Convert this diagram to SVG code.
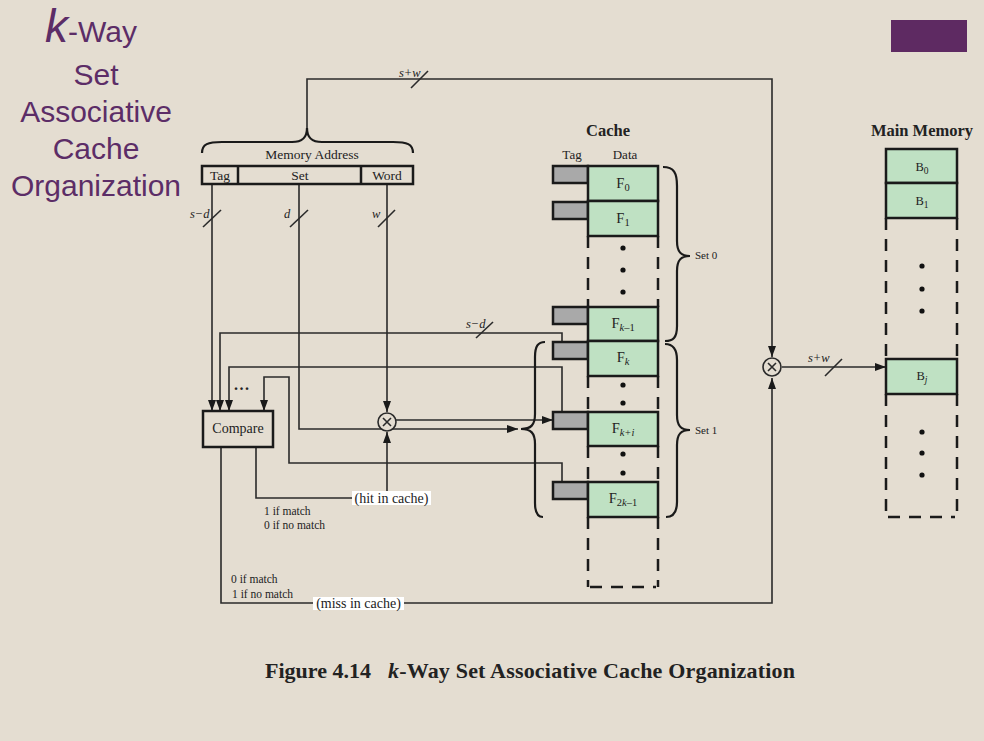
<svg xmlns="http://www.w3.org/2000/svg" width="984" height="741" viewBox="0 0 984 741">
<defs>
<marker id="arr" viewBox="0 0 11 8" refX="11" refY="4" markerWidth="11" markerHeight="8" markerUnits="userSpaceOnUse" orient="auto"><path d="M0,0 L11,4 L0,8 z" fill="#1a1a1a"/></marker>
</defs>
<style>
.ln{fill:none;stroke:#2a2a2a;stroke-width:1.6}
.br{fill:none;stroke:#1a1a1a;stroke-width:2.2}
.box{fill:none;stroke:#1a1a1a;stroke-width:2.5}
.tag{fill:#a9a9a9;stroke:#1a1a1a;stroke-width:2.5}
.data{fill:#bfe1c3;stroke:#1a1a1a;stroke-width:2.5}
.dash{fill:none;stroke:#1a1a1a;stroke-width:2.5;stroke-dasharray:12 9}
.t{font-family:"Liberation Serif","Times New Roman",serif;fill:#222}
.it{font-style:italic}
.m{text-anchor:middle}
.ttl{font-family:"Liberation Sans",Arial,sans-serif;fill:#5c2d67;font-size:30px;text-anchor:middle}
.dot{fill:#111}
.lbl{fill:#ffffff}
.mul{fill:#e4ddd1;stroke:#2a2a2a;stroke-width:1.6}
</style>
<rect x="0" y="0" width="984" height="741" fill="#e4ddd1"/>
<rect x="891" y="20" width="76" height="32" fill="#5e2a62"/>

<g id="title">
<text x="45" y="42" style="font-family:'Liberation Sans',Arial,sans-serif;fill:#5c2d67"><tspan font-style="italic" font-size="46">k</tspan><tspan font-size="30">-Way</tspan></text>
<text class="ttl" x="96" y="85">Set</text>
<text class="ttl" x="96" y="122">Associative</text>
<text class="ttl" x="96" y="159">Cache</text>
<text class="ttl" x="96" y="196">Organization</text>
</g>

<g id="connectors">
<path class="ln" d="M307,128 V79 H772 V357" marker-end="url(#arr)"/>
<path class="ln" d="M212,184 V411" marker-end="url(#arr)"/>
<path class="ln" d="M299,184 V429 H518" marker-end="url(#arr)"/>
<path class="ln" d="M387,184 V412" marker-end="url(#arr)"/>
<path class="ln" d="M396,420 H553" marker-end="url(#arr)"/>
<path class="ln" d="M562,342 V333 H220 V411" marker-end="url(#arr)"/>
<path class="ln" d="M562,412 V367 H229 V411" marker-end="url(#arr)"/>
<path class="ln" d="M562,482 V463 H289 V377 H264 V411" marker-end="url(#arr)"/>
<path class="ln" d="M256,447 V498 H352"/>
<path class="ln" d="M387,491 V432" marker-end="url(#arr)"/>
<path class="ln" d="M221,447 V603 H772 V378" marker-end="url(#arr)"/>
<path class="ln" d="M782,367 H886" marker-end="url(#arr)"/>
<!-- slashes -->
<line class="ln" x1="411" y1="88" x2="428" y2="71"/>
<line class="ln" x1="203" y1="227" x2="221" y2="210"/>
<line class="ln" x1="290" y1="227" x2="308" y2="210"/>
<line class="ln" x1="378" y1="227" x2="395" y2="210"/>
<line class="ln" x1="476" y1="338" x2="493" y2="322"/>
<line class="ln" x1="825" y1="376" x2="842" y2="359"/>
<text class="t it" x="399" y="77" font-size="12.5">s+w</text>
<text class="t it" x="190" y="218" font-size="12.5">s−d</text>
<text class="t it" x="284" y="218" font-size="12.5">d</text>
<text class="t it" x="372" y="218" font-size="12.5">w</text>
<text class="t it" x="466" y="328" font-size="12.5">s−d</text>
<text class="t it" x="808" y="362" font-size="12.5">s+w</text>
</g>

<g id="memory-address">
<path class="br" d="M202,153 C202,144 208,142 222,142 L292,142 C302,142 307,138 307,128 C307,138 312,142 322,142 L393,142 C407,142 413,144 413,153"/>
<text class="t m" x="312" y="159" font-size="13.5">Memory Address</text>
<rect class="box" x="202" y="166" width="211" height="18"/>
<line class="box" x1="238" y1="166" x2="238" y2="184"/>
<line class="box" x1="361" y1="166" x2="361" y2="184"/>
<text class="t m" x="220" y="180" font-size="13.5">Tag</text>
<text class="t m" x="300" y="180" font-size="13.5">Set</text>
<text class="t m" x="387" y="180" font-size="13.5">Word</text>
</g>

<g id="compare">
<rect class="box" x="203" y="411" width="70" height="36"/>
<text class="t m" x="238" y="433" font-size="14">Compare</text>
<text class="t" x="234" y="390" font-size="16" font-weight="bold" letter-spacing="1.5">...</text>
</g>

<g id="mux-cache">
<circle class="mul" cx="387" cy="422" r="9"/>
<path class="ln" d="M383,418 L391,426 M391,418 L383,426"/>
</g>

<g id="mux-memory">
<circle class="mul" cx="772" cy="367" r="9"/>
<path class="ln" d="M768,363 L776,371 M776,363 L768,371"/>
</g>

<g id="hit-label">
<rect class="lbl" x="352" y="491" width="79" height="14"/>
<text class="t m" x="391.5" y="503" font-size="14">(hit in cache)</text>
<text class="t" x="264" y="515" font-size="11.5">1 if match</text>
<text class="t" x="264" y="529" font-size="11.5">0 if no match</text>
</g>

<g id="miss-label">
<rect class="lbl" x="313" y="597" width="91" height="13"/>
<text class="t m" x="358.5" y="608" font-size="14">(miss in cache)</text>
<text class="t" x="231" y="583" font-size="11.5">0 if match</text>
<text class="t" x="232" y="598" font-size="11.5">1 if no match</text>
</g>

<g id="cache">
<text class="t m" x="608" y="136" font-size="16.5" font-weight="bold">Cache</text>
<text class="t m" x="572" y="159" font-size="13">Tag</text>
<text class="t m" x="625" y="159" font-size="13">Data</text>
<line class="dash" x1="588" y1="236" x2="588" y2="307"/>
<line class="dash" x1="658" y1="236" x2="658" y2="307"/>
<line class="dash" x1="588" y1="376" x2="588" y2="412"/>
<line class="dash" x1="658" y1="376" x2="658" y2="412"/>
<line class="dash" x1="588" y1="446" x2="588" y2="482"/>
<line class="dash" x1="658" y1="446" x2="658" y2="482"/>
<line class="dash" x1="588" y1="517" x2="588" y2="587"/>
<line class="dash" x1="658" y1="517" x2="658" y2="587"/>
<line class="dash" x1="590" y1="587" x2="656" y2="587"/>
<circle class="dot" cx="623" cy="248" r="2.6"/>
<circle class="dot" cx="623" cy="270" r="2.6"/>
<circle class="dot" cx="623" cy="292" r="2.6"/>
<circle class="dot" cx="623" cy="385" r="2.6"/>
<circle class="dot" cx="623" cy="403" r="2.6"/>
<circle class="dot" cx="623" cy="454" r="2.6"/>
<circle class="dot" cx="623" cy="473" r="2.6"/>
</g>

<g id="line-F0">
<rect class="tag" x="553" y="166" width="35" height="17"/>
<rect class="data" x="588" y="166" width="70" height="35"/>
<text class="t m" x="623" y="188" font-size="14.5">F<tspan dy="3" font-size="10.5">0</tspan></text>
</g>
<g id="line-F1">
<rect class="tag" x="553" y="202" width="35" height="17"/>
<rect class="data" x="588" y="201" width="70" height="35"/>
<text class="t m" x="623" y="223" font-size="14.5">F<tspan dy="3" font-size="10.5">1</tspan></text>
</g>
<g id="line-Fk-1">
<rect class="tag" x="553" y="307" width="35" height="17"/>
<rect class="data" x="588" y="307" width="70" height="34"/>
<text class="t m" x="623" y="328" font-size="14.5">F<tspan dy="3" font-size="10.5"><tspan font-style="italic">k</tspan>–1</tspan></text>
</g>
<g id="line-Fk">
<rect class="tag" x="553" y="342" width="35" height="17"/>
<rect class="data" x="588" y="341" width="70" height="35"/>
<text class="t m" x="623" y="362" font-size="14.5">F<tspan dy="3" font-size="10.5" font-style="italic">k</tspan></text>
</g>
<g id="line-Fk+i">
<rect class="tag" x="553" y="412" width="35" height="17"/>
<rect class="data" x="588" y="412" width="70" height="34"/>
<text class="t m" x="623" y="433" font-size="14.5">F<tspan dy="3" font-size="10.5" font-style="italic">k+i</tspan></text>
</g>
<g id="line-F2k-1">
<rect class="tag" x="553" y="482" width="35" height="17"/>
<rect class="data" x="588" y="482" width="70" height="35"/>
<text class="t m" x="623" y="503" font-size="14.5">F<tspan dy="3" font-size="10.5">2<tspan font-style="italic">k</tspan>–1</tspan></text>
</g>

<g id="set0">
<path class="br" d="M663,167 C674,167 677,173 677,186 L677,241 C677,252 681,256 690,256 C681,256 677,260 677,271 L677,326 C677,338 673,341 665,341"/>
<text class="t" x="695" y="259" font-size="11">Set 0</text>
</g>
<g id="set1">
<path class="br" d="M665,344 C673,344 677,349 677,360 L677,415 C677,426 681,430 690,430 C681,430 677,434 677,445 L677,502 C677,513 673,517 666,517"/>
<text class="t" x="695" y="434" font-size="11">Set 1</text>
</g>
<g id="set1-select">
<path class="br" d="M545,342 C538,342 535,346 535,357 L535,414 C535,425 531,429 521,429 C531,429 535,433 535,444 L535,503 C535,513 538,517 543,517"/>
</g>

<g id="main-memory">
<text class="t m" x="922" y="136" font-size="16.5" font-weight="bold">Main Memory</text>
<rect class="data" x="886" y="149" width="71" height="34"/>
<rect class="data" x="886" y="183" width="71" height="35"/>
<text class="t m" x="922" y="171" font-size="12.5">B<tspan dy="3" font-size="9.5">0</tspan></text>
<text class="t m" x="922" y="205" font-size="12.5">B<tspan dy="3" font-size="9.5">1</tspan></text>
<line class="dash" x1="886" y1="218" x2="886" y2="359"/>
<line class="dash" x1="957" y1="218" x2="957" y2="359"/>
<circle class="dot" cx="922" cy="266" r="2.6"/>
<circle class="dot" cx="922" cy="289" r="2.6"/>
<circle class="dot" cx="922" cy="311" r="2.6"/>
<rect class="data" x="886" y="359" width="71" height="35"/>
<text class="t m" x="922" y="380" font-size="12.5">B<tspan dy="3" font-size="9.5" font-style="italic">j</tspan></text>
<line class="dash" x1="886" y1="394" x2="886" y2="517"/>
<line class="dash" x1="957" y1="394" x2="957" y2="517"/>
<line class="dash" x1="888" y1="517" x2="955" y2="517"/>
<circle class="dot" cx="922" cy="432" r="2.6"/>
<circle class="dot" cx="922" cy="453" r="2.6"/>
<circle class="dot" cx="922" cy="475" r="2.6"/>
</g>

<g id="caption">
<text class="t" x="265" y="678" font-size="22" font-weight="bold" fill="#111">Figure 4.14</text>
<text class="t" x="388" y="678" font-size="22" font-weight="bold" fill="#111" textLength="407" lengthAdjust="spacing"><tspan font-style="italic">k</tspan>-Way Set Associative Cache Organization</text>
</g>
</svg>
